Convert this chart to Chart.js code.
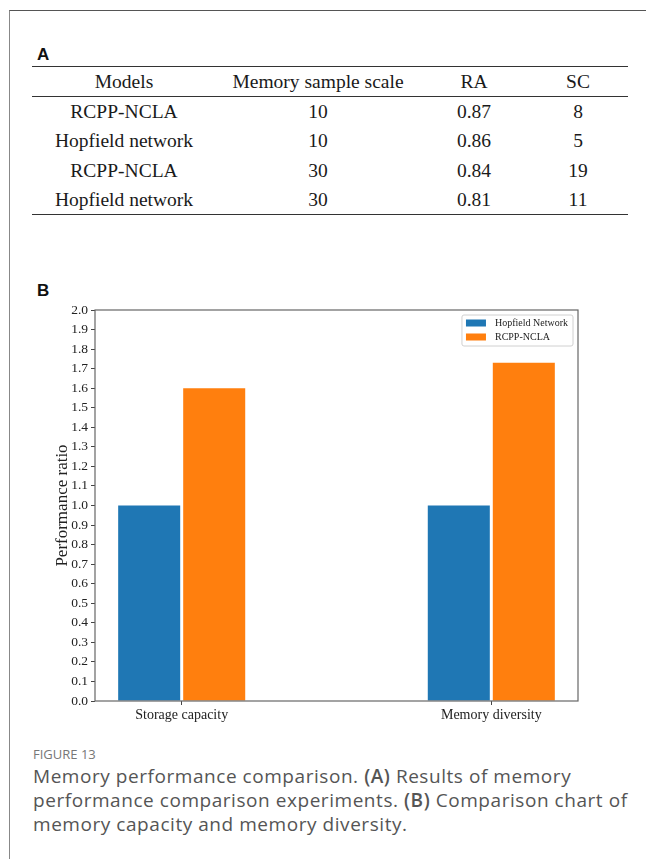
<!DOCTYPE html>
<html>
<head>
<meta charset="utf-8">
<script src="https://cdn.jsdelivr.net/npm/chart.js@4.4.1/dist/chart.umd.min.js"></script>
<style>
  html, body { margin: 0; padding: 0; background: #fff; }
  body { width: 646px; height: 859px; position: relative; overflow: hidden; }
  .frame { position: absolute; left: 9px; top: 10px; width: 660px; height: 870px;
           border-top: 1.5px solid #555; border-left: 1.5px solid #888; }
  .panel { position: absolute; font: bold 17px "Liberation Sans", Arial, sans-serif; line-height: 1; color: #111; }
  #tableA { position: absolute; left: 32px; top: 66px; width: 596px; border-collapse: collapse;
            table-layout: fixed; color: #1a1a1a;
            border-top: 1.5px solid #333; border-bottom: 1.5px solid #333; }
  #tableA th, #tableA td { padding: 0; text-align: center; font-weight: normal; line-height: 1;
            font-family: "Liberation Serif", "Times New Roman", serif; font-size: 19.5px; }
  #tableA thead tr { height: 30px; }
  #tableA thead th { border-bottom: 1.5px solid #333; }
  #tableA tbody tr { height: 29.5px; }
  #chartB { position: absolute; left: 0; top: 280px; }
  .caption { position: absolute; left: 33px; top: 744px; font-family: "Open Sans", "Noto Sans", sans-serif; color: #555; }
  .caption .fig { font-size: 13px; color: #777; line-height: 20px; }
  .caption .text { font-size: 19px; letter-spacing: 0.55px; line-height: 24px; }
  .caption b { font-weight: 600; }
</style>
</head>
<body>
<div class="frame"></div>
<div class="panel" style="left:37px; top:46px;">A</div>
<table id="tableA">
  <colgroup><col style="width:184px"><col style="width:204px"><col style="width:108px"><col style="width:100px"></colgroup>
  <thead><tr id="headRow"></tr></thead>
  <tbody id="bodyRows"></tbody>
</table>
<div class="panel" style="left:37px; top:282px;">B</div>
<canvas id="chartB" width="646" height="450"></canvas>
<div class="caption">
  <div class="fig">FIGURE 13</div>
  <div class="text">Memory performance comparison. <b>(A)</b> Results of memory<br>performance comparison experiments. <b>(B)</b> Comparison chart of<br>memory capacity and memory diversity.</div>
</div>
<script>
// table A
const tableHeaders = ['Models', 'Memory sample scale', 'RA', 'SC'];
const tableModels = ['RCPP-NCLA', 'Hopfield network', 'RCPP-NCLA', 'Hopfield network'];
const tableScale = [10, 10, 30, 30];
const tableRA = ['0.87', '0.86', '0.84', '0.81'];
const tableSC = [8, 5, 19, 11];

// chart B
const categories = ['Storage capacity', 'Memory diversity'];
const seriesNames = ['Hopfield Network', 'RCPP-NCLA'];
const hopfieldValues = [1.0, 1.0];
const rcppValues = [1.6, 1.73];
const seriesColors = ['#1f77b4', '#ff7f0e'];

document.getElementById('headRow').innerHTML = tableHeaders.map(h => '<th>' + h + '</th>').join('');
document.getElementById('bodyRows').innerHTML = tableModels.map((m, i) =>
    '<tr><td>' + m + '</td><td>' + tableScale[i] + '</td><td>' + tableRA[i] + '</td><td>' + tableSC[i] + '</td></tr>'
).join('');

const serif = '"Liberation Serif", "Times New Roman", serif';

// frame around the plot + matplotlib style legend box in the upper right
const boxedLegend = {
    id: 'boxedLegend',
    afterDatasetsDraw(chart) {
        const { ctx, chartArea } = chart;
        ctx.save();
        ctx.strokeStyle = '#666';
        ctx.lineWidth = 1.2;
        ctx.strokeRect(chartArea.left, chartArea.top, chartArea.right - chartArea.left, chartArea.bottom - chartArea.top);

        ctx.font = '10px ' + serif;
        const textW = Math.max(...chart.data.datasets.map(d => ctx.measureText(d.label).width));
        const w = 4 + 20 + 9 + textW + 5;
        const h = 31;
        const x = chartArea.right - 5 - w;
        const y = chartArea.top + 5;
        ctx.fillStyle = 'rgba(255,255,255,0.8)';
        ctx.strokeStyle = '#d0d0d0';
        ctx.lineWidth = 1;
        ctx.beginPath();
        ctx.roundRect(x, y, w, h, 2);
        ctx.fill();
        ctx.stroke();
        chart.data.datasets.forEach((ds, i) => {
            const cy = y + 8 + i * 14;
            ctx.fillStyle = ds.backgroundColor;
            ctx.fillRect(x + 4, cy - 3.5, 20, 7);
            ctx.fillStyle = '#222';
            ctx.textBaseline = 'middle';
            ctx.fillText(ds.label, x + 33, cy + 0.5);
        });
        ctx.restore();
    }
};

const ctx = document.getElementById('chartB').getContext('2d');
new Chart(ctx, {
    type: 'bar',
    data: {
        datasets: [
            {
                label: seriesNames[0],
                data: categories.map((c, i) => ({ x: i, y: hopfieldValues[i] })),
                backgroundColor: seriesColors[0],
                categoryPercentage: 0.42,
                barPercentage: 0.954
            },
            {
                label: seriesNames[1],
                data: categories.map((c, i) => ({ x: i, y: rcppValues[i] })),
                backgroundColor: seriesColors[1],
                categoryPercentage: 0.42,
                barPercentage: 0.954
            }
        ]
    },
    options: {
        responsive: false,
        animation: false,
        devicePixelRatio: 1,
        layout: { padding: { left: 0, top: 30, right: 68, bottom: 3 } },
        plugins: {
            legend: { display: false },
            tooltip: { enabled: false }
        },
        scales: {
            x: {
                type: 'linear',
                min: -0.28,
                max: 1.28,
                offset: false,
                afterBuildTicks: s => { s.ticks = categories.map((c, i) => ({ value: i })); },
                afterFit: s => { s.height = 26; },
                ticks: {
                    callback: v => categories[v],
                    font: { family: serif, size: 14 },
                    color: '#222',
                    padding: 2,
                    maxRotation: 0,
                    autoSkip: false
                },
                grid: { drawOnChartArea: false, tickLength: 4, color: '#444', offset: false },
                border: { display: false }
            },
            y: {
                min: 0,
                max: 2,
                afterFit: s => { s.width = 95; },
                ticks: {
                    stepSize: 0.1,
                    autoSkip: false,
                    callback: v => v.toFixed(1),
                    font: { family: serif, size: 13.5 },
                    color: '#222',
                    padding: 3
                },
                grid: { drawOnChartArea: false, tickLength: 4, color: '#444' },
                border: { display: false },
                title: {
                    display: true,
                    text: 'Performance ratio',
                    font: { family: serif, size: 17 },
                    color: '#222',
                    padding: { top: 52, bottom: 0 }
                }
            }
        }
    },
    plugins: [boxedLegend]
});
</script>
</body>
</html>
